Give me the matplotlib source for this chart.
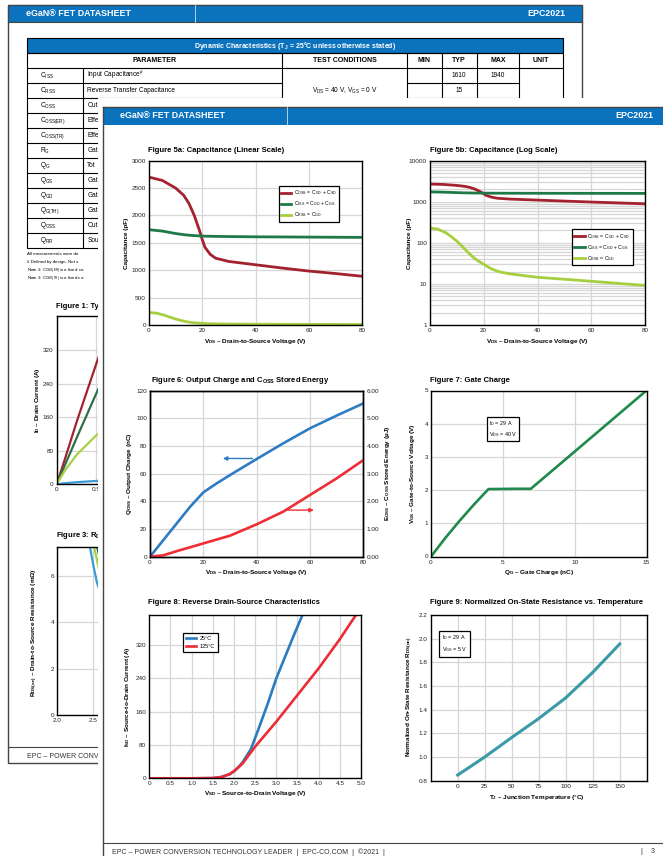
import matplotlib
matplotlib.use("Agg")
import matplotlib.pyplot as plt
from matplotlib import font_manager
from matplotlib.patches import Rectangle
from matplotlib.ticker import FixedLocator, FixedFormatter, LogLocator, NullFormatter

W, H = 663, 856

# ---------------- data ----------------
# back page, Figure 1 (typical output characteristics, only the left edge shows)
VDS_F1 = [0, 0.1, 0.25, 0.5, 0.75]
ID_F1_RED = [0, 58, 148, 288, 420]
ID_F1_DGREEN = [0, 44, 110, 217, 320]
ID_F1_LIME = [0, 32, 70, 117, 150]
ID_F1_BLUE = [0, 2.5, 5, 8, 9]

# back page, Figure 3 (RDS(on) vs VGS, only the left edge shows)
VGS_F3_BLUE = [2.40, 2.45, 2.50, 2.55, 2.65, 2.8, 3.0]
R_F3_BLUE = [8.6, 7.3, 6.45, 5.7, 4.8, 4.0, 3.4]
VGS_F3_LIME = [2.45, 2.51, 2.58, 2.7, 2.9, 3.1]
R_F3_LIME = [8.2, 7.25, 6.25, 5.2, 4.3, 3.7]
VGS_F3_DGREEN = [2.50, 2.55, 2.62, 2.75, 2.95, 3.2]
R_F3_DGREEN = [8.2, 7.25, 6.4, 5.4, 4.5, 3.8]

# back page table (only what is not hidden by the front page)
TABLE_HEAD = ["PARAMETER", "TEST CONDITIONS", "MIN", "TYP", "MAX", "UNIT"]
TABLE_SYMBOLS = ["C$_{ISS}$", "C$_{RSS}$", "C$_{OSS}$", "C$_{OSS(ER)}$", "C$_{OSS(TR)}$",
                 "R$_G$", "Q$_G$", "Q$_{GS}$", "Q$_{GD}$", "Q$_{G(TH)}$", "Q$_{OSS}$", "Q$_{RR}$"]
TABLE_NAMES = ["Input Capacitance$^{\\#}$", "Reverse Transfer Capacitance", "Out", "Effe", "Effe",
               "Gat", "Tot", "Gat", "Gat", "Gat", "Out", "Sou"]
TABLE_TYP = ["1610", "15"]
TABLE_MAX = ["1940", ""]
TABLE_NOTES = ["All measurements were do", "# Defined by design. Not s",
               "Note 2: C$_{OSS(ER)}$ is a fixed ca", "Note 3: C$_{OSS(TR)}$ is a fixed ca"]

# Figure 5a / 5b capacitance
VDS_CAP = [0, 5, 10, 13, 15, 17, 19, 20, 21, 23, 25, 30, 40, 50, 60, 70, 80]
COSS = [2700, 2640, 2500, 2370, 2220, 2000, 1720, 1560, 1420, 1290, 1220, 1160, 1100, 1040, 985, 940, 890]
CISS = [1740, 1715, 1670, 1650, 1640, 1632, 1627, 1625, 1622, 1620, 1618, 1615, 1610, 1608, 1605, 1602, 1600]
VDS_CRSS = [0, 3, 6, 8, 10, 12, 14, 16, 18, 20, 23, 26, 30, 40, 50, 60, 70, 80]
CRSS = [230, 215, 175, 140, 110, 82, 60, 45, 36, 30, 23, 19.5, 17.5, 14.5, 13, 11.6, 10.3, 9.2]
CAP_LABELS = ["C$_{OSS}$ = C$_{GD}$ + C$_{SD}$", "C$_{ISS}$ = C$_{GD}$ + C$_{GS}$", "C$_{RSS}$ = C$_{GD}$"]

# Figure 6 output charge and stored energy
VDS_Q = [0, 5, 10, 15, 20, 25, 30, 40, 50, 60, 70, 80]
QOSS = [0, 12, 24, 36, 46.5, 53, 59, 70.6, 82, 92.8, 102, 110.8]
VDS_E = [0, 5, 10, 20, 30, 40, 50, 60, 70, 80]
EOSS = [0, 0.05, 0.2, 0.48, 0.76, 1.17, 1.63, 2.23, 2.83, 3.49]
ARROW_Q = ((39.5, 71), (26.3, 71))
ARROW_E = ((50.6, 33.7), (62.5, 33.7))

# Figure 7 gate charge
QG = [0, 1, 2, 3, 4.0, 5, 6, 6.95, 10, 15]
VGS = [0, 0.56, 1.08, 1.57, 2.03, 2.035, 2.04, 2.04, 3.16, 5.0]

# Figure 8 reverse drain-source characteristics
VSD_25 = [0, 1.0, 1.5, 1.7, 1.9, 2.0, 2.1, 2.2, 2.4, 2.6, 2.8, 3.0, 3.2, 3.4, 3.6, 3.7]
ISD_25 = [0, 0, 0.5, 3, 10, 17, 26, 38, 70, 124, 180, 240, 290, 340, 388, 410]
VSD_125 = [0, 1.0, 1.5, 1.7, 1.9, 2.0, 2.2, 2.5, 3.0, 3.5, 4.0, 4.5, 4.9]
ISD_125 = [0, 0, 0.5, 3, 10, 17, 35, 76, 136, 200, 264, 334, 395]
VSD_TICKS = [0, 0.5, 1.0, 1.5, 2.0, 2.5, 3.0, 3.5, 4.0, 4.5, 5.0]

# Figure 9 normalized on-resistance
TJ = [0, 25, 50, 75, 100, 125, 150]
RNORM = [0.848, 1.0, 1.165, 1.325, 1.5, 1.715, 1.955]

# ---------------- style ----------------
_names = {f.name for f in font_manager.fontManager.ttflist}
FAM = "Liberation Sans Narrow" if "Liberation Sans Narrow" in _names else "Liberation Sans"
plt.rcParams["font.family"] = [FAM, "DejaVu Sans"]
plt.rcParams["mathtext.fontset"] = "custom"
plt.rcParams["mathtext.rm"] = FAM
plt.rcParams["mathtext.bf"] = FAM + ":bold"
plt.rcParams["mathtext.it"] = FAM + ":italic"
plt.rcParams["mathtext.default"] = "regular"

BLUE_HDR = "#0b72bd"
GRID = "#d6d6d6"
TICK_FS = 4.6
LAB_FS = 4.6
TITLE_FS = 5.5

fig = plt.figure(figsize=(W / 100, H / 100), dpi=100)


def layer(z):
    ax = fig.add_axes([0, 0, 1, 1])
    ax.set_xlim(0, W)
    ax.set_ylim(H, 0)
    ax.axis("off")
    ax.set_zorder(z)
    ax.patch.set_visible(False)
    return ax


def px_axes(x0, y0, x1, y1, z):
    ax = fig.add_axes([x0 / W, 1 - y1 / H, (x1 - x0) / W, (y1 - y0) / H])
    ax.set_zorder(z)
    for s in ax.spines.values():
        s.set_linewidth(1.0)
        s.set_color("black")
    ax.tick_params(length=0, labelsize=TICK_FS, pad=2.2, colors="#222222")
    ax.grid(True, color=GRID, lw=0.9)
    ax.set_axisbelow(True)
    return ax


def txt(ax, x, y, s, fs, bold=False, ha="left", va="center", color="black", rot=0):
    ax.text(x, y, s, fontsize=fs, fontweight="bold" if bold else "normal",
            ha=ha, va=va, color=color, rotation=rot)


# ================= back page =================
bg = layer(0)
bg.add_patch(Rectangle((8.3, 5), 573.4, 758, fc="white", ec="#444444", lw=1.0))
bg.add_patch(Rectangle((8.3, 5), 573.4, 16.7, fc=BLUE_HDR, ec="#444444", lw=0.8))
bg.plot([195, 195], [5, 21.7], color="#cfe0f0", lw=0.6)
txt(bg, 26, 13.6, "eGaN® FET DATASHEET", 6.4, True, color="white")
txt(bg, 565, 13.6, "EPC2021", 6.4, True, ha="right", color="white")

# table
cols = [26.7, 83.3, 281.7, 407.3, 441.7, 476.7, 519.3, 563.3]
rows = [67.7] + [83.3 + 15 * i for i in range(12)]
bg.add_patch(Rectangle((cols[0], 37.7), cols[-1] - cols[0], 15.6, fc=BLUE_HDR, ec="black", lw=0.8))
txt(bg, (cols[0] + cols[-1]) / 2, 45.5,
    "Dynamic Characteristics (T$_J$ = 25°C unless otherwise stated)", 5.0, True, ha="center", color="white")
bg.add_patch(Rectangle((cols[0], 53.3), cols[-1] - cols[0], rows[-1] - 53.3, fc="none", ec="black", lw=0.8))
bg.plot([cols[0], cols[-1]], [67.7, 67.7], color="black", lw=0.8)
head_x = [(cols[0] + cols[2]) / 2] + [(cols[i] + cols[i + 1]) / 2 for i in range(2, 7)]
for hx, name in zip(head_x, TABLE_HEAD):
    txt(bg, hx, 60.6, name, 5.0, True, ha="center")
for cx in cols[2:7]:
    bg.plot([cx, cx], [53.3, rows[-1]], color="black", lw=0.8)
bg.plot([cols[1], cols[1]], [67.7, rows[-1]], color="black", lw=0.8)
for i, ry in enumerate(rows[1:-1]):
    bg.plot([cols[0], cols[2]], [ry, ry], color="black", lw=0.8)
    bg.plot([cols[3], cols[6]], [ry, ry], color="black", lw=0.8)
    if i >= 2:
        bg.plot([cols[2], cols[3]], [ry, ry], color="black", lw=0.8)
        bg.plot([cols[6], cols[7]], [ry, ry], color="black", lw=0.8)
for i, (sym, nm) in enumerate(zip(TABLE_SYMBOLS, TABLE_NAMES)):
    cy = (rows[i] + rows[i + 1]) / 2
    txt(bg, 40.5, cy, sym, 4.7)
    txt(bg, 87.3, cy, nm, 4.7)
for i, (t, m) in enumerate(zip(TABLE_TYP, TABLE_MAX)):
    cy = (rows[i] + rows[i + 1]) / 2
    txt(bg, head_x[3], cy, t, 4.7, ha="center")
    txt(bg, head_x[4], cy, m, 4.7, ha="center")
txt(bg, head_x[1], 90.8, "V$_{DS}$ = 40 V, V$_{GS}$ = 0 V", 4.7, ha="center")
for i, note in enumerate(TABLE_NOTES):
    txt(bg, 26.7, 254 + 8.3 * i, note, 3.2)

# Figure 1 (back)
txt(bg, 56, 306.7, "Figure 1: Ty", TITLE_FS, True)
f1 = px_axes(56.7, 316.3, 295, 484.3, 1)
f1.plot(VDS_F1, ID_F1_RED, color="#a3222e", lw=1.6)
f1.plot(VDS_F1, ID_F1_DGREEN, color="#2f6e47", lw=1.6)
f1.plot(VDS_F1, ID_F1_LIME, color="#a8cf45", lw=1.6)
f1.plot(VDS_F1, ID_F1_BLUE, color="#3b9bd8", lw=1.6)
f1.set_xlim(0, 3)
f1.set_ylim(0, 400)
f1.set_xticks([0, 0.5, 1.0, 1.5, 2.0, 2.5, 3.0])
f1.set_xticklabels(["0", "0.5", "", "", "", "", ""])
f1.set_yticks([0, 80, 160, 240, 320])
txt(bg, 37.3, 400, "I$_D$ – Drain Current (A)", LAB_FS, True, ha="center", rot=90)

# Figure 3 (back)
txt(bg, 56, 535.7, "Figure 3: R$_D$", TITLE_FS, True)
f3 = px_axes(57, 546.7, 275, 715, 1)
f3.plot(VGS_F3_BLUE, R_F3_BLUE, color="#3b9bd8", lw=1.6)
f3.plot(VGS_F3_LIME, R_F3_LIME, color="#a8cf45", lw=1.6)
f3.plot(VGS_F3_DGREEN, R_F3_DGREEN, color="#2f6e47", lw=1.6)
f3.set_xlim(2.0, 5.0)
f3.set_ylim(0, 7.25)
f3.set_xticks([2.0, 2.5, 3.0, 3.5, 4.0, 4.5, 5.0])
f3.set_xticklabels(["2.0", "2.5", "", "", "", "", ""])
f3.set_yticks([0, 2, 4, 6])
txt(bg, 35, 633, "R$_{DS(on)}$ – Drain-to-Source Resistance (mΩ)", LAB_FS, True, ha="center", rot=90)

bg.plot([8.3, 581.7], [747, 747], color="#444444", lw=0.8)
txt(bg, 26.7, 756.7, "EPC – POWER CONVE", 5.0, color="#333333")

# ================= front page =================
fr = layer(2)
fr.add_patch(Rectangle((98, 98), W - 98, H - 98, fc="white", ec="none"))
fr.add_patch(Rectangle((102.5, 106.5), W, 18.5, fc=BLUE_HDR, ec="none"))
fr.plot([102.5, 102.5], [106.5, H], color="#444444", lw=1.0)
fr.plot([102.5, W], [106.5, 106.5], color="#444444", lw=1.0)
fr.plot([287.4, 287.4], [106.5, 125], color="#cfe0f0", lw=0.6)
txt(fr, 119.7, 115.8, "eGaN® FET DATASHEET", 6.4, True, color="white")
txt(fr, 653.3, 115.8, "EPC2021", 6.4, True, ha="right", color="white")
fr.plot([102.5, W], [843.3, 843.3], color="#444444", lw=0.8)
txt(fr, 111.7, 851.7, "EPC – POWER CONVERSION TECHNOLOGY LEADER  |  EPC-CO.COM  |  ©2021  |", 5.0, color="#333333")
txt(fr, 640, 851.7, "|", 5.0, color="#333333")
txt(fr, 650.7, 851.7, "3", 5.0, color="#333333")

CAP_COLORS = ["#a3222e", "#1d7a48", "#a6cf3f"]
VDS_LABEL = "V$_{DS}$ – Drain-to-Source Voltage (V)"


def cap_legend(ax, anchor):
    leg = ax.legend(loc="upper left", bbox_to_anchor=anchor, fontsize=3.7, frameon=True,
                    fancybox=False, edgecolor="black", framealpha=1, handlelength=2.0,
                    handletextpad=0.5, borderpad=0.5, labelspacing=0.4, borderaxespad=0)
    leg.get_frame().set_linewidth(0.9)


# Figure 5a
txt(fr, 148.5, 150.7, "Figure 5a: Capacitance (Linear Scale)", TITLE_FS, True)
a5 = px_axes(149, 160.7, 362, 325, 3)
a5.plot(VDS_CAP, COSS, color=CAP_COLORS[0], lw=2.0, label=CAP_LABELS[0])
a5.plot(VDS_CAP, CISS, color=CAP_COLORS[1], lw=2.0, label=CAP_LABELS[1])
a5.plot(VDS_CRSS, CRSS, color=CAP_COLORS[2], lw=2.0, label=CAP_LABELS[2])
a5.set_xlim(0, 80)
a5.set_ylim(0, 3000)
a5.set_xticks([0, 20, 40, 60, 80])
a5.set_yticks([0, 500, 1000, 1500, 2000, 2500, 3000])
cap_legend(a5, (0.608, 0.846))
txt(fr, 255.5, 341.7, VDS_LABEL, LAB_FS, True, ha="center")
txt(fr, 126.2, 243, "Capacitance (pF)", LAB_FS, True, ha="center", rot=90)

# Figure 5b
txt(fr, 430, 150.7, "Figure 5b: Capacitance (Log Scale)", TITLE_FS, True)
b5 = px_axes(430, 160.7, 645, 325, 3)
b5.plot(VDS_CAP, COSS, color=CAP_COLORS[0], lw=2.0, label=CAP_LABELS[0])
b5.plot(VDS_CAP, CISS, color=CAP_COLORS[1], lw=2.0, label=CAP_LABELS[1])
b5.plot(VDS_CRSS, CRSS, color=CAP_COLORS[2], lw=2.0, label=CAP_LABELS[2])
b5.set_yscale("log")
b5.set_xlim(0, 80)
b5.set_ylim(1, 10000)
b5.set_xticks([0, 20, 40, 60, 80])
b5.yaxis.set_major_locator(FixedLocator([1, 10, 100, 1000, 10000]))
b5.yaxis.set_major_formatter(FixedFormatter(["1", "10", "100", "1000", "10000"]))
b5.yaxis.set_minor_locator(LogLocator(base=10, subs=range(2, 10)))
b5.yaxis.set_minor_formatter(NullFormatter())
b5.tick_params(which="minor", length=0)
b5.grid(True, which="minor", axis="y", color=GRID, lw=0.9)
cap_legend(b5, (0.659, 0.582))
txt(fr, 537.5, 341.7, VDS_LABEL, LAB_FS, True, ha="center")
txt(fr, 410, 243, "Capacitance (pF)", LAB_FS, True, ha="center", rot=90)

# Figure 6
txt(fr, 150.7, 380.7, "Figure 6: Output Charge and C$_{OSS}$ Stored Energy", TITLE_FS, True)
a6 = px_axes(150, 390.7, 363.3, 556.7, 3)
a6.plot(VDS_Q, QOSS, color="#2f7bc4", lw=1.9)
a6.set_xlim(0, 80)
a6.set_ylim(0, 120)
a6.set_xticks([0, 20, 40, 60, 80])
a6.set_yticks([0, 20, 40, 60, 80, 100, 120])
a6.annotate("", xy=ARROW_Q[1], xytext=ARROW_Q[0],
            arrowprops=dict(arrowstyle="-|>", color="#2f7bc4", lw=1.0, mutation_scale=6))
a6.annotate("", xy=ARROW_E[1], xytext=ARROW_E[0],
            arrowprops=dict(arrowstyle="-|>", color="#ee2d35", lw=1.0, mutation_scale=6))
e6 = a6.twinx()
e6.set_zorder(3.1)
e6.patch.set_visible(False)
e6.plot(VDS_E, EOSS, color="#ee2d35", lw=1.9)
e6.set_ylim(0, 6)
e6.set_yticks([0, 1, 2, 3, 4, 5, 6])
e6.set_yticklabels(["0.00", "1.00", "2.00", "3.00", "4.00", "5.00", "6.00"])
e6.tick_params(length=0, labelsize=TICK_FS, pad=2.2, colors="#222222")
for s in e6.spines.values():
    s.set_linewidth(1.0)
txt(fr, 256.7, 572.3, VDS_LABEL, LAB_FS, True, ha="center")
txt(fr, 130, 473.7, "Q$_{OSS}$ – Output Charge (nC)", LAB_FS, True, ha="center", rot=90)
txt(fr, 388, 473.7, "E$_{OSS}$ – C$_{OSS}$ Stored Energy (µJ)", LAB_FS, True, ha="center", rot=90)

# Figure 7
txt(fr, 430, 380.7, "Figure 7: Gate Charge", TITLE_FS, True)
a7 = px_axes(431, 390.5, 646.5, 556.5, 3)
a7.plot(QG, VGS, color="#1f8a4c", lw=1.9)
a7.set_xlim(0, 15)
a7.set_ylim(0, 5)
a7.set_xticks([0, 5, 10, 15])
a7.set_yticks([0, 1, 2, 3, 4, 5])
a7.text(0.268, 0.83, "I$_D$ = 29 A\nV$_{DS}$ = 40 V", transform=a7.transAxes, fontsize=3.9,
        va="top", ha="left", linespacing=1.4,
        bbox=dict(boxstyle="square,pad=0.4", fc="white", ec="black", lw=0.9))
txt(fr, 538.7, 572.3, "Q$_G$ – Gate Charge (nC)", LAB_FS, True, ha="center")
txt(fr, 412.4, 473.5, "V$_{GS}$ – Gate-to-Source Voltage (V)", LAB_FS, True, ha="center", rot=90)

# Figure 8
txt(fr, 148, 603, "Figure 8: Reverse Drain-Source Characteristics", TITLE_FS, True)
a8 = px_axes(149.3, 615, 361, 778.3, 3)
a8.plot(VSD_25, ISD_25, color="#2a7bc0", lw=1.9, label="25°C")
a8.plot(VSD_125, ISD_125, color="#ed2b36", lw=1.9, label="125°C")
a8.set_xlim(0, 5)
a8.set_ylim(0, 392)
a8.set_xticks(VSD_TICKS)
a8.set_xticklabels(["0"] + [f"{v:.1f}" for v in VSD_TICKS[1:]])
a8.set_yticks([0, 80, 160, 240, 320])
leg8 = a8.legend(loc="upper left", bbox_to_anchor=(0.159, 0.890), fontsize=4.0, frameon=True,
                 fancybox=False, edgecolor="black", framealpha=1, handlelength=1.8,
                 handletextpad=0.6, borderpad=0.55, labelspacing=0.5, borderaxespad=0)
leg8.get_frame().set_linewidth(0.9)
txt(fr, 255, 793, "V$_{SD}$ – Source-to-Drain Voltage (V)", LAB_FS, True, ha="center")
txt(fr, 128, 697, "I$_{SD}$ – Source-to-Drain Current (A)", LAB_FS, True, ha="center", rot=90)

# Figure 9
txt(fr, 430, 603, "Figure 9: Normalized On-State Resistance vs. Temperature", TITLE_FS, True)
a9 = px_axes(430.7, 615, 646.7, 780.7, 3)
a9.plot(TJ, RNORM, color="#3a9aa8", lw=2.2)
a9.set_xlim(-25, 175)
a9.set_ylim(0.8, 2.2)
a9.set_xticks([0, 25, 50, 75, 100, 125, 150])
a9.set_yticks([0.8, 1.0, 1.2, 1.4, 1.6, 1.8, 2.0, 2.2])
a9.set_yticklabels(["0.8", "1.0", "1.2", "1.4", "1.6", "1.8", "2.0", "2.2"])
a9.text(0.05, 0.89, "I$_D$ = 29 A\nV$_{GS}$ = 5 V", transform=a9.transAxes, fontsize=3.9,
        va="top", ha="left", linespacing=1.5,
        bbox=dict(boxstyle="square,pad=0.5", fc="white", ec="black", lw=0.9))
txt(fr, 537, 797, "T$_J$ – Junction Temperature (°C)", LAB_FS, True, ha="center")
txt(fr, 410, 697, "Normalized On-State Resistance R$_{DS(on)}$", LAB_FS, True, ha="center", rot=90)

fig.savefig("out.png", dpi=100)
